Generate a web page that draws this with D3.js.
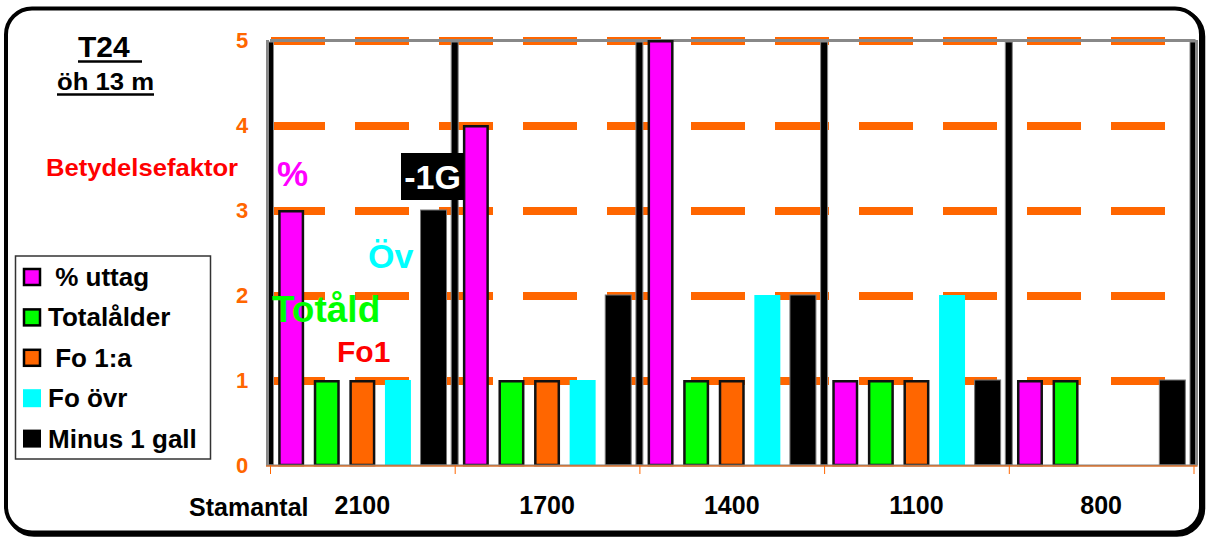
<!DOCTYPE html>
<html>
<head>
<meta charset="utf-8">
<script src="https://cdn.jsdelivr.net/npm/d3@7"></script>
<style>
  body { margin: 0; background: #fff; }
  text { font-family: "Liberation Sans", Arial, sans-serif; font-weight: bold; }
</style>
</head>
<body>
<div id="chart"></div>
<script>
// stamantal groups
let categories = ["2100", "1700", "1400", "1100", "800"]
let seriesNames = ["% uttag", "Totalålder", "Fo 1:a", "Fo övr", "Minus 1 gall"]
let uttag = [3, 4, 5, 1, 1]
let totalalder = [1, 1, 1, 1, 1]
let fo1a = [1, 1, 1, 1, null]
let foOvr = [1, 1, 2, 2, null]
let minus1gall = [3, 2, 2, 1, 1]
let yTicks = [0, 1, 2, 3, 4, 5]
let separatorValue = 5

let colors = ["#ff00ff", "#00ff00", "#ff6600", "#00ffff", "#000000"]
let outlined = [true, true, true, false, false]
let allSeries = [uttag, totalalder, fo1a, foOvr, minus1gall]

let cfg = {
  w: 1208,
  h: 538,
  left: 270,
  right: 1193.5,
  top: 40,
  bottom: 465
}

let svg = d3.select("#chart")
  .append("svg")
  .attr("width", cfg.w)
  .attr("height", cfg.h)

let x0 = d3.scaleBand()
  .domain(categories)
  .range([cfg.left, cfg.right])
  .padding(0)

let x1 = d3.scaleBand()
  .domain(seriesNames)
  .range([0, x0.bandwidth()])
  .paddingInner(0.27)
  .paddingOuter(0.23)

let y = d3.scaleLinear()
  .domain([0, 5])
  .range([cfg.bottom, cfg.top])

// outer rounded frame (slight shadow on right / bottom)
svg.append("rect")
  .attr("x", 8)
  .attr("y", 10.5)
  .attr("width", 1195)
  .attr("height", 524)
  .attr("rx", 26)
  .style("fill", "none")
  .style("stroke", "#000")
  .style("stroke-width", 4.5)
svg.append("rect")
  .attr("x", 6)
  .attr("y", 8.5)
  .attr("width", 1195)
  .attr("height", 524)
  .attr("rx", 26)
  .style("fill", "#fff")
  .style("stroke", "#000")
  .style("stroke-width", 4)

// dashed orange grid lines
svg.selectAll(".grid")
  .data(yTicks.filter(d => d > 0))
  .enter()
  .append("line")
  .attr("class", "grid")
  .attr("x1", cfg.left + 1)
  .attr("x2", cfg.right)
  .attr("y1", d => y(d) + 1)
  .attr("y2", d => y(d) + 1)
  .style("stroke", "#ff6600")
  .style("stroke-width", 8)
  .style("stroke-dasharray", "54,30")

// top border of plot area
svg.append("line")
  .attr("x1", cfg.left)
  .attr("x2", cfg.right + 2)
  .attr("y1", cfg.top + 0.5)
  .attr("y2", cfg.top + 0.5)
  .style("stroke", "#888")
  .style("stroke-width", 3)

// bars
let groups = svg.selectAll(".group")
  .data(categories)
  .enter()
  .append("g")
  .attr("class", "group")
  .attr("transform", d => "translate(" + x0(d) + ",0)")

groups.selectAll("rect")
  .data((c, ci) => seriesNames.map((s, si) => ({ s: s, si: si, v: allSeries[si][ci] })))
  .enter()
  .filter(d => d.v != null && d.v > 0)
  .append("rect")
  .attr("x", d => x1(d.s) + (outlined[d.si] ? 1.25 : 0))
  .attr("width", d => x1.bandwidth() - (outlined[d.si] ? 2.5 : 0))
  .attr("y", d => y(d.v) + (outlined[d.si] ? 1.25 : 0))
  .attr("height", d => cfg.bottom - y(d.v) - (outlined[d.si] ? 1.25 : 0))
  .style("fill", d => colors[d.si])
  .style("stroke", d => outlined[d.si] ? "#111" : (d.si === 4 ? "#777" : "none"))
  .style("stroke-width", d => outlined[d.si] ? 2.5 : 1)

// thin black separators at group boundaries
let boundaries = categories.map(c => x0(c)).concat([cfg.right])
svg.selectAll(".sep")
  .data(boundaries)
  .enter()
  .append("rect")
  .attr("class", "sep")
  .attr("x", d => d - 3.5)
  .attr("width", 7)
  .attr("y", y(separatorValue) + 2)
  .attr("height", cfg.bottom - y(separatorValue) - 2)
  .style("fill", "#000")
  .style("stroke", "#888")
  .style("stroke-width", 1)

// left / right gray edges
svg.append("line")
  .attr("x1", cfg.left - 2.5).attr("x2", cfg.left - 2.5)
  .attr("y1", cfg.top).attr("y2", cfg.bottom)
  .style("stroke", "#888")
  .style("stroke-width", 3)
svg.append("line")
  .attr("x1", cfg.right + 3).attr("x2", cfg.right + 3)
  .attr("y1", cfg.top).attr("y2", cfg.bottom)
  .style("stroke", "#888")
  .style("stroke-width", 3)

// bottom axis
svg.append("line")
  .attr("x1", cfg.left - 4)
  .attr("x2", cfg.right + 4)
  .attr("y1", cfg.bottom + 0.5)
  .attr("y2", cfg.bottom + 0.5)
  .style("stroke", "#888")
  .style("stroke-width", 2)
svg.append("line")
  .attr("x1", cfg.left - 4)
  .attr("x2", cfg.right + 4)
  .attr("y1", cfg.bottom + 1)
  .attr("y2", cfg.bottom + 1)
  .style("stroke", "#ff6600")
  .style("stroke-width", 1)
svg.selectAll(".xtick")
  .data(boundaries)
  .enter()
  .append("line")
  .attr("class", "xtick")
  .attr("x1", d => d + 0.5)
  .attr("x2", d => d + 0.5)
  .attr("y1", cfg.bottom)
  .attr("y2", cfg.bottom + 9)
  .style("stroke", "#ff6600")
  .style("stroke-width", 1)

// y tick labels
svg.selectAll(".ylabel")
  .data(yTicks)
  .enter()
  .append("text")
  .attr("class", "ylabel")
  .attr("x", 242)
  .attr("y", d => y(d) + 8)
  .attr("text-anchor", "middle")
  .style("font-size", "22px")
  .style("fill", "#ff6600")
  .text(d => d)

// category labels
svg.selectAll(".xlabel")
  .data(categories)
  .enter()
  .append("text")
  .attr("class", "xlabel")
  .attr("x", d => x0(d) + x0.bandwidth() / 2)
  .attr("y", 514)
  .attr("text-anchor", "middle")
  .style("font-size", "25px")
  .style("fill", "#000")
  .text(d => d)

svg.append("text")
  .attr("x", 189)
  .attr("y", 516)
  .style("font-size", "25px")
  .text("Stamantal")

// title
svg.append("text")
  .attr("x", 78)
  .attr("y", 57)
  .style("font-size", "30px")
  .text("T24")
svg.append("line")
  .attr("x1", 78).attr("x2", 142)
  .attr("y1", 61.5).attr("y2", 61.5)
  .style("stroke", "#000")
  .style("stroke-width", 2.5)
svg.append("text")
  .attr("x", 57)
  .attr("y", 90)
  .attr("textLength", 97)
  .attr("lengthAdjust", "spacingAndGlyphs")
  .style("font-size", "23px")
  .text("öh 13 m")
svg.append("line")
  .attr("x1", 57).attr("x2", 154)
  .attr("y1", 94.5).attr("y2", 94.5)
  .style("stroke", "#000")
  .style("stroke-width", 2.5)

svg.append("text")
  .attr("x", 46)
  .attr("y", 175.5)
  .attr("textLength", 192)
  .attr("lengthAdjust", "spacingAndGlyphs")
  .style("font-size", "23.5px")
  .style("fill", "#ff0000")
  .text("Betydelsefaktor")

// annotations in the plot
svg.append("text")
  .attr("x", 277).attr("y", 186)
  .style("font-size", "35px")
  .style("fill", "#ff00ff")
  .text("%")

svg.append("rect")
  .attr("x", 401).attr("y", 153)
  .attr("width", 63).attr("height", 47)
  .style("fill", "#000")
svg.append("text")
  .attr("x", 432.5).attr("y", 189)
  .attr("text-anchor", "middle")
  .style("font-size", "34px")
  .style("fill", "#fff")
  .text("-1G")

svg.append("text")
  .attr("x", 368).attr("y", 268)
  .style("font-size", "34px")
  .style("fill", "#00ffff")
  .text("Öv")

svg.append("text")
  .attr("x", 272).attr("y", 322)
  .style("font-size", "37px")
  .style("fill", "#00ff00")
  .text("Totåld")

svg.append("text")
  .attr("x", 337).attr("y", 362)
  .style("font-size", "30px")
  .style("fill", "#ff0000")
  .text("Fo1")

// legend
let legend = svg.append("g")
legend.append("rect")
  .attr("x", 15.5).attr("y", 256)
  .attr("width", 195).attr("height", 203)
  .style("fill", "#fff")
  .style("stroke", "#333")
  .style("stroke-width", 1.5)

let legendLabels = [" % uttag", "Totalålder", " Fo 1:a", "Fo övr", "Minus 1 gall"]
let item = legend.selectAll(".litem")
  .data(seriesNames)
  .enter()
  .append("g")
  .attr("class", "litem")
  .attr("transform", (d, i) => "translate(0," + (277 + i * 40.4) + ")")

item.append("rect")
  .attr("x", d => outlined[seriesNames.indexOf(d)] ? 24 : 23)
  .attr("y", d => outlined[seriesNames.indexOf(d)] ? -8 : -9)
  .attr("width", d => outlined[seriesNames.indexOf(d)] ? 16 : 18)
  .attr("height", d => outlined[seriesNames.indexOf(d)] ? 16 : 18)
  .style("fill", d => colors[seriesNames.indexOf(d)])
  .style("stroke", d => outlined[seriesNames.indexOf(d)] ? "#000" : "none")
  .style("stroke-width", 2.5)

item.append("text")
  .attr("x", 48)
  .attr("y", 9)
  .attr("xml:space", "preserve")
  .style("white-space", "pre")
  .style("font-size", "26px")
  .text((d, i) => legendLabels[i])
</script>
</body>
</html>
